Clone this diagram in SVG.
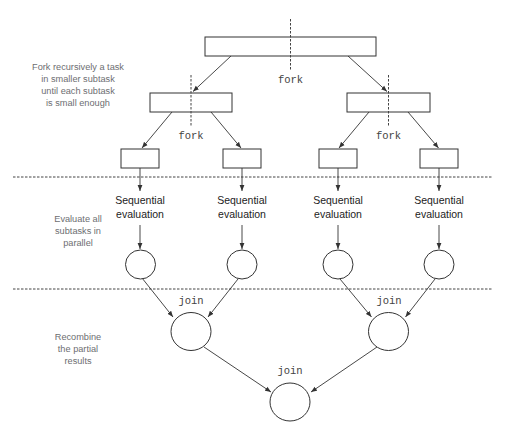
<svg xmlns="http://www.w3.org/2000/svg" width="519" height="428" viewBox="0 0 519 428">
<style>
.box{fill:#fff;stroke:#333;stroke-width:1}
.circ{fill:#fff;stroke:#333;stroke-width:1}
.edge{stroke:#333;stroke-width:0.9;fill:none;marker-end:url(#ah)}
.dash{stroke:#444;stroke-width:1;stroke-dasharray:2.5,1.5;fill:none}
.note{font-family:"Liberation Sans",Arial,sans-serif;font-size:9.2px;fill:#6d6e71;text-anchor:middle}
.seq{font-family:"Liberation Sans",Arial,sans-serif;font-size:10.5px;fill:#222;text-anchor:middle}
.code{font-family:"Liberation Mono","Courier New",monospace;font-size:10.5px;fill:#444;text-anchor:middle}
</style>
<defs>
<marker id="ah" viewBox="0 0 10 10" refX="10" refY="5" markerWidth="6" markerHeight="6" markerUnits="userSpaceOnUse" orient="auto">
<path d="M0,1 L10,5 L0,9 z" fill="#333"/>
</marker>
</defs>
<rect width="519" height="428" fill="#fff"/>
<g id="separators">
<line class="dash" x1="13" y1="177" x2="492" y2="177"/>
<line class="dash" x1="13" y1="289" x2="492" y2="289"/>
</g>
<g id="notes">
<text class="note" x="78" y="70"><tspan x="78">Fork recursively a task</tspan><tspan x="78" dy="12">in smaller subtask</tspan><tspan x="78" dy="12">until each subtask</tspan><tspan x="78" dy="12">is small enough</tspan></text>
<text class="note" x="78" y="222"><tspan x="78">Evaluate all</tspan><tspan x="78" dy="12">subtasks in</tspan><tspan x="78" dy="12">parallel</tspan></text>
<text class="note" x="78" y="340"><tspan x="78">Recombine</tspan><tspan x="78" dy="12">the partial</tspan><tspan x="78" dy="12">results</tspan></text>
</g>
<g id="connectors">
<line class="edge" x1="231" y1="56" x2="193" y2="91.5"/>
<line class="edge" x1="348" y1="56" x2="387" y2="91.5"/>
<line class="edge" x1="172" y1="112" x2="142" y2="148"/>
<line class="edge" x1="211" y1="112" x2="241" y2="148"/>
<line class="edge" x1="369" y1="112" x2="339" y2="148"/>
<line class="edge" x1="408" y1="112" x2="438.5" y2="148"/>
<line class="edge" x1="140" y1="168" x2="140" y2="191"/>
<line class="edge" x1="242" y1="168" x2="242" y2="191"/>
<line class="edge" x1="338" y1="168" x2="338" y2="191"/>
<line class="edge" x1="439" y1="168" x2="439" y2="191"/>
<line class="edge" x1="140" y1="225" x2="140" y2="249"/>
<line class="edge" x1="242" y1="225" x2="242" y2="249"/>
<line class="edge" x1="338" y1="225" x2="338" y2="249"/>
<line class="edge" x1="439" y1="225" x2="439" y2="249"/>
<line class="edge" x1="142" y1="278" x2="173" y2="317"/>
<line class="edge" x1="238" y1="279" x2="208" y2="317"/>
<line class="edge" x1="340" y1="279" x2="371.5" y2="317"/>
<line class="edge" x1="435" y1="279" x2="405.5" y2="317"/>
<line class="edge" x1="204" y1="347" x2="271" y2="392"/>
<line class="edge" x1="377" y1="347" x2="311" y2="392"/>
</g>
<g id="fork-top">
<rect class="box" x="205" y="37" width="171" height="19"/>
<line class="dash" x1="290.5" y1="19" x2="290.5" y2="71"/>
<text class="code" x="290.5" y="83">fork</text>
</g>
<g id="fork-left">
<rect class="box" x="150" y="93" width="82" height="19"/>
<line class="dash" x1="191" y1="75" x2="191" y2="127"/>
<text class="code" x="191" y="139">fork</text>
</g>
<g id="fork-right">
<rect class="box" x="347" y="93" width="83" height="19"/>
<line class="dash" x1="388.5" y1="75" x2="388.5" y2="127"/>
<text class="code" x="388.5" y="139">fork</text>
</g>
<g id="leaf1"><rect class="box" x="121" y="149" width="38" height="19"/></g>
<g id="leaf2"><rect class="box" x="223" y="149" width="38" height="19"/></g>
<g id="leaf3"><rect class="box" x="319" y="149" width="38" height="19"/></g>
<g id="leaf4"><rect class="box" x="420" y="149" width="38" height="19"/></g>
<g id="seq1"><text class="seq" x="140" y="204"><tspan x="140">Sequential</tspan><tspan x="140" dy="14">evaluation</tspan></text></g>
<g id="seq2"><text class="seq" x="242" y="204"><tspan x="242">Sequential</tspan><tspan x="242" dy="14">evaluation</tspan></text></g>
<g id="seq3"><text class="seq" x="338" y="204"><tspan x="338">Sequential</tspan><tspan x="338" dy="14">evaluation</tspan></text></g>
<g id="seq4"><text class="seq" x="439" y="204"><tspan x="439">Sequential</tspan><tspan x="439" dy="14">evaluation</tspan></text></g>
<g id="res1"><ellipse class="circ" cx="140.5" cy="264.5" rx="15" ry="14.5"/></g>
<g id="res2"><ellipse class="circ" cx="242" cy="264.5" rx="15" ry="14.5"/></g>
<g id="res3"><ellipse class="circ" cx="338" cy="264.5" rx="15" ry="14.5"/></g>
<g id="res4"><ellipse class="circ" cx="439" cy="264.5" rx="15" ry="14.5"/></g>
<g id="join-left">
<text class="code" x="191" y="304">join</text>
<ellipse class="circ" cx="191" cy="331.5" rx="20" ry="19"/>
</g>
<g id="join-right">
<text class="code" x="389" y="304">join</text>
<ellipse class="circ" cx="388.5" cy="331.5" rx="20" ry="19"/>
</g>
<g id="join-bottom">
<text class="code" x="290" y="374">join</text>
<ellipse class="circ" cx="290" cy="402" rx="20" ry="19"/>
</g>
</svg>
